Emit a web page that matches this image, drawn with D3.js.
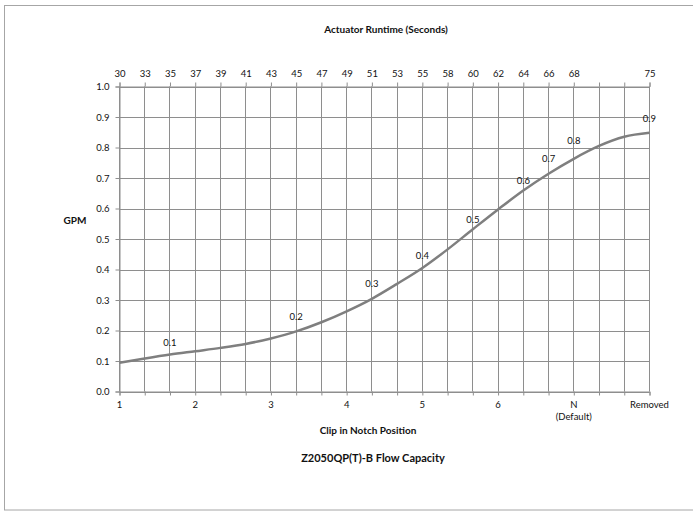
<!DOCTYPE html>
<html>
<head>
<meta charset="utf-8">
<script src="https://cdn.jsdelivr.net/npm/d3@7"></script>
<style>
  html, body { margin: 0; padding: 0; background: #fff; }
  svg { display: block; }
  text { font-family: Lato, "Open Sans", sans-serif; fill: #111; }
</style>
</head>
<body>
<script>
// ---- data ----
const topTickLabels = ["30","33","35","37","39","41","43","45","47","49","51","53","55","58","60","62","64","66","68","","","75"];
const bottomCategories = ["1","2","3","4","5","6","N|(Default)","Removed"];
const gpmValues = [0.094,0.108,0.121,0.132,0.143,0.156,0.174,0.197,0.227,0.263,0.304,0.353,0.405,0.466,0.532,0.597,0.659,0.714,0.763,0.805,0.835,0.848];
const pointLabels = ["0.1","0.2","0.3","0.4","0.5","0.6","0.7","0.8","0.9"];
const pointLabelIndex = [2,7,10,12,14,16,17,18,21];
const pointLabelGpm = [0.160,0.245,0.355,0.445,0.565,0.692,0.764,0.823,0.893];
const yTicks = [0,0.1,0.2,0.3,0.4,0.5,0.6,0.7,0.8,0.9,1.0];

const W = 693, H = 511;
const svg = d3.select("body").append("svg").attr("width", W).attr("height", H);

// outer border
svg.append("rect").attr("x", 4.5).attr("y", 5.5).attr("width", 720).attr("height", 504.5)
  .attr("fill", "none").attr("stroke", "#a6a6a6").attr("stroke-width", 1);

const x = d3.scaleLinear().domain([0, topTickLabels.length - 1]).range([119.5, 649.5]);
const y = d3.scaleLinear().domain([0, 1]).range([391.5, 86.5]);
const gridColor = "#8e8e8e";
const idx = d3.range(topTickLabels.length);

// gridlines
const grid = svg.append("g");
grid.selectAll("line.h").data(yTicks).join("line")
  .attr("x1", x(0)).attr("x2", x(idx.length - 1))
  .attr("y1", d => Math.round(y(d)) + 0.5).attr("y2", d => Math.round(y(d)) + 0.5)
  .attr("stroke", gridColor).attr("stroke-width", 1);
grid.selectAll("line.v").data(idx).join("line")
  .attr("x1", d => Math.round(x(d) - 0.5) + 0.5).attr("x2", d => Math.round(x(d) - 0.5) + 0.5)
  .attr("y1", y(1)).attr("y2", y(0))
  .attr("stroke", gridColor).attr("stroke-width", 1);

// axes
const tickStyle = g => {
  g.select(".domain").attr("stroke", gridColor);
  g.selectAll(".tick line").attr("stroke", gridColor);
  g.selectAll(".tick text").style("font-family", "Lato, sans-serif").style("font-size", "9.5px").attr("fill", "#111");
};

const leftAxis = d3.axisLeft(y).tickValues(yTicks).tickFormat(d3.format(".1f")).tickSize(4).tickPadding(6);
svg.append("g").attr("transform", `translate(${x(0)},0)`).call(leftAxis).call(tickStyle);

const topAxis = d3.axisTop(x).tickValues(idx).tickFormat(i => topTickLabels[i]).tickSize(4).tickPadding(6);
svg.append("g").attr("transform", `translate(0,${y(1)})`).call(topAxis).call(tickStyle);

const bottomAxis = d3.axisBottom(x).tickValues(idx).tickFormat("").tickSize(4);
svg.append("g").attr("transform", `translate(0,${y(0)})`).call(bottomAxis).call(tickStyle);

// bottom category labels (every 3 grid steps)
const catG = svg.append("g");
bottomCategories.forEach((c, i) => {
  const parts = c.split("|");
  const t = catG.append("text").attr("x", x(i * 3)).attr("y", 408)
    .attr("text-anchor", "middle").style("font-size", "9.5px");
  parts.forEach((p, k) => t.append("tspan").attr("x", x(i * 3)).attr("dy", k === 0 ? 0 : 12).text(p));
});

// curve
const line = d3.line().x((d, i) => x(i)).y(d => y(d)).curve(d3.curveMonotoneX);
svg.append("path").datum(gpmValues).attr("d", line)
  .attr("fill", "none").attr("stroke", "#7f7f7f").attr("stroke-width", 2.5);

// point labels
svg.append("g").selectAll("text").data(pointLabels).join("text")
  .attr("x", (d, i) => x(pointLabelIndex[i]))
  .attr("y", (d, i) => y(pointLabelGpm[i]))
  .attr("dy", "0.35em").attr("text-anchor", "middle")
  .style("font-size", "9.5px").text(d => d);

// titles
svg.append("text").attr("x", 386).attr("y", 33).attr("text-anchor", "middle")
  .style("font-size", "10px").style("font-weight", "bold").text("Actuator Runtime (Seconds)");
svg.append("text").attr("x", 75).attr("y", 224).attr("text-anchor", "middle")
  .style("font-size", "10px").style("font-weight", "bold").text("GPM");
svg.append("text").attr("x", 368).attr("y", 434).attr("text-anchor", "middle")
  .style("font-size", "10px").style("font-weight", "bold").text("Clip in Notch Position");
svg.append("text").attr("x", 373).attr("y", 462).attr("text-anchor", "middle")
  .style("font-size", "11px").style("font-weight", "bold").text("Z2050QP(T)-B Flow Capacity");
</script>
</body>
</html>
